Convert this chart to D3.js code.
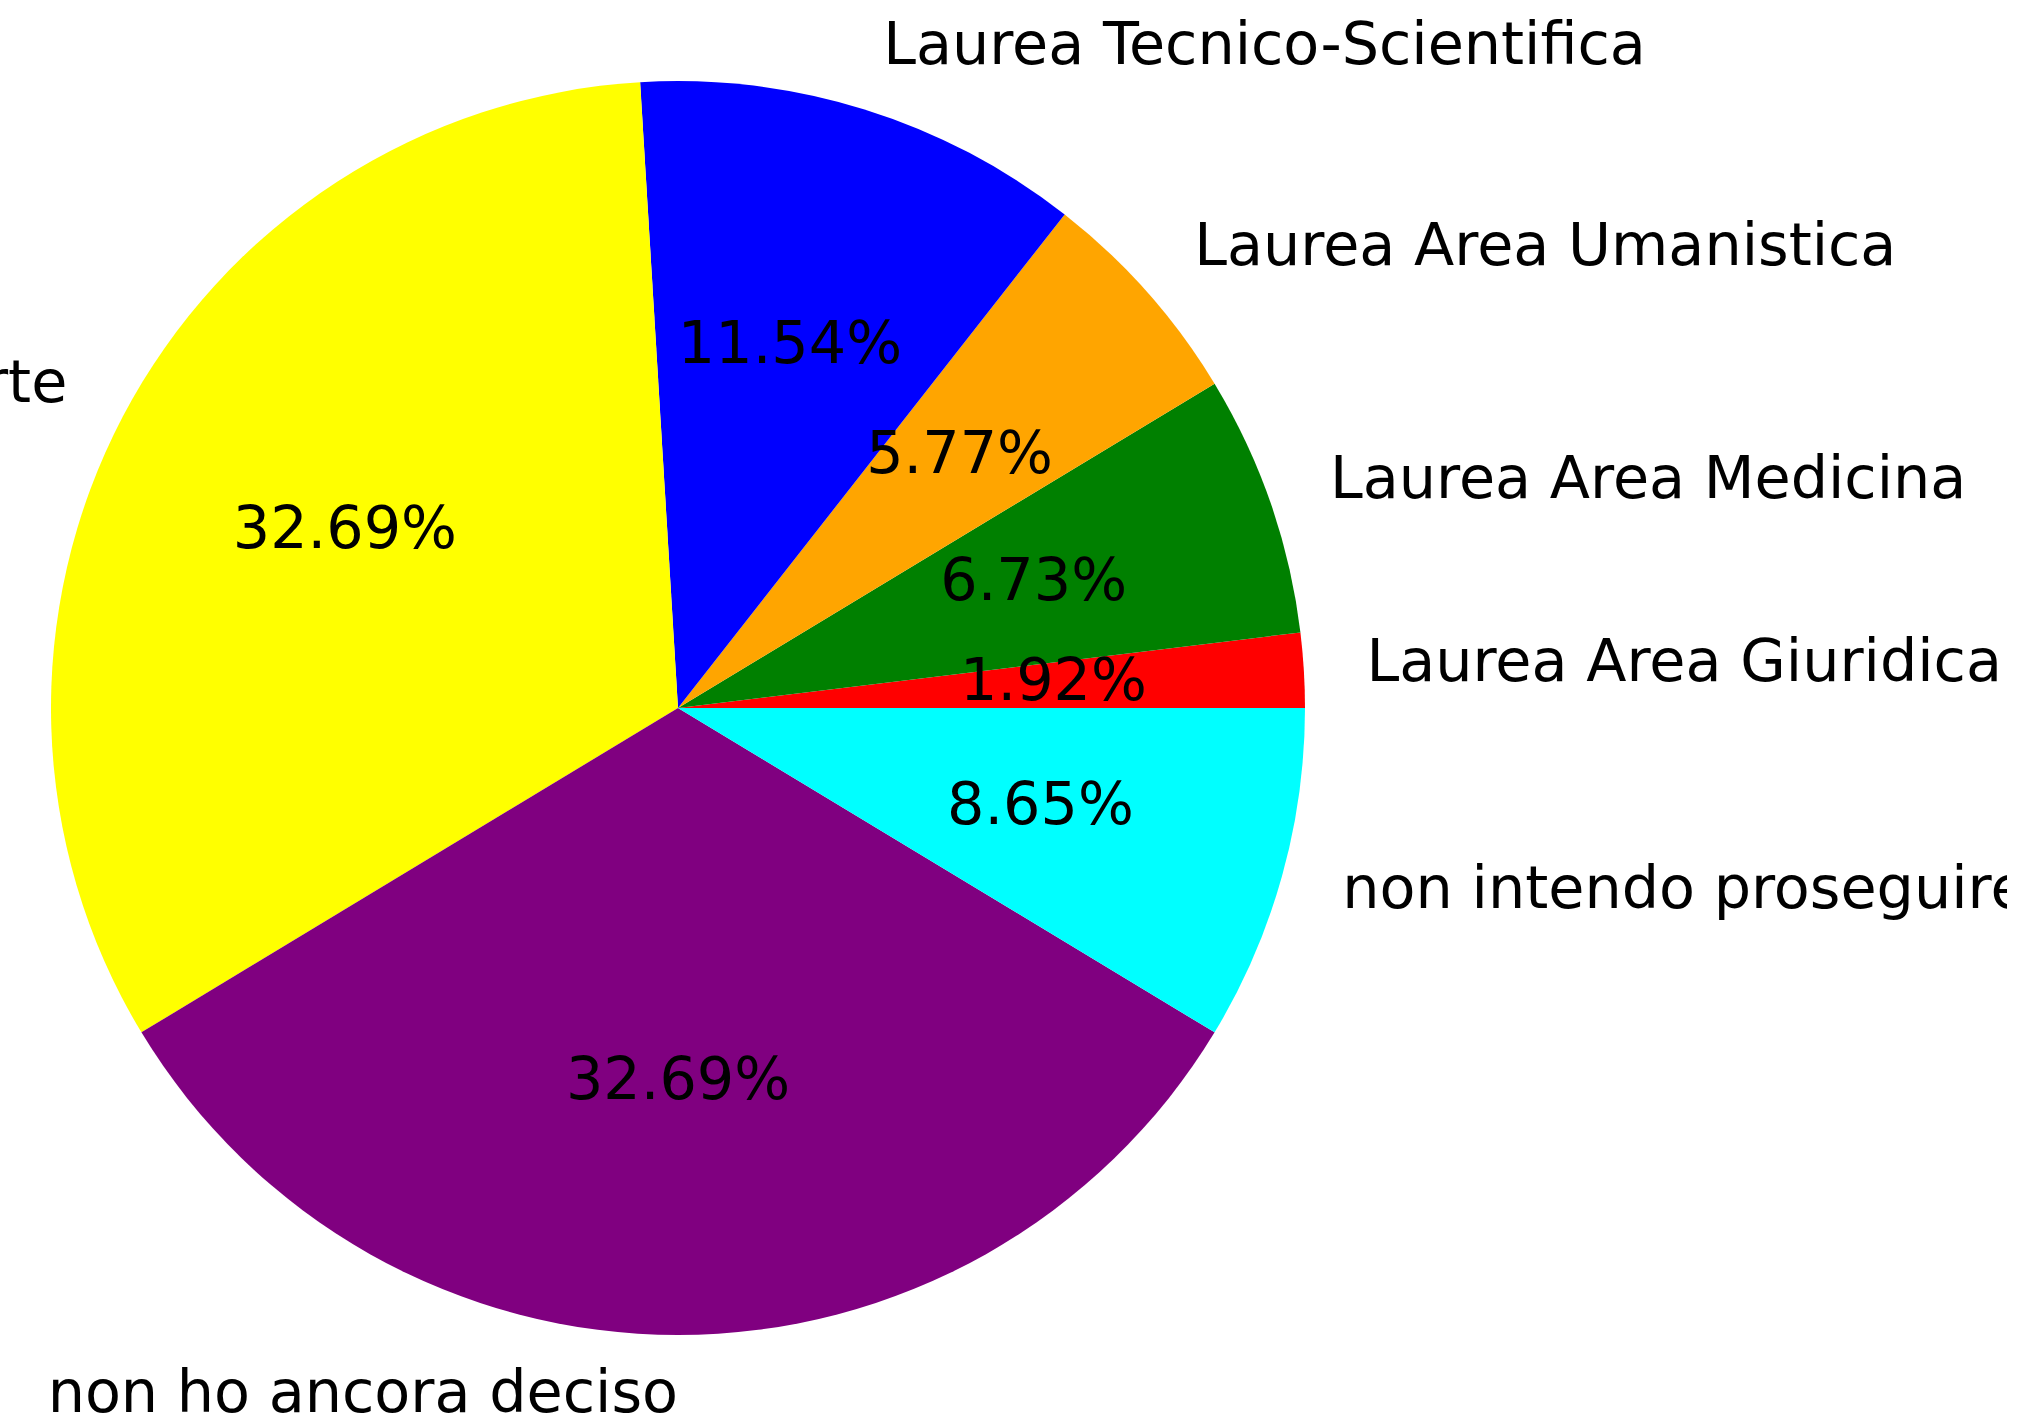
<!DOCTYPE html>
<meta charset="utf-8">
<style>
 body { margin: 0; background: #fff; }
 text {
   font-family: "DejaVu Sans", sans-serif;
   font-size: 58.8px;
   fill: #000;
 }
</style>
<svg width="2044" height="1426"></svg>
<script src="https://d3js.org/d3.v7.min.js"></script>
<script>

 // answers, counter-clockwise from 3 o'clock as in the source chart
 var labels = ["Laurea Area Giuridica", "Laurea Area Medicina", "Laurea Area Umanistica",
               "Laurea Tecnico-Scientifica", "Laurea Area Arte", "non ho ancora deciso",
               "non intendo proseguire"];
 var counts = [2, 7, 6, 12, 34, 34, 9];
 var colors = ["red", "green", "orange", "blue", "yellow", "purple", "cyan"];

 var svg = d3.select("svg"),
     cx = 678,
     cy = 708,
     radius = 627;

 var total = d3.sum(counts);
 var items = labels.map(function(l, i) { return {label: l, value: counts[i], color: colors[i]}; });

 // the original figure was cropped on the right, labels get cut there too
 svg.append("defs").append("clipPath")
    .attr("id", "crop")
    .append("rect")
    .attr("x", 0).attr("y", 0)
    .attr("width", 2007).attr("height", 1426);

 // d3 angles run clockwise from 12 o'clock, so go from +90deg backwards
 var pie = d3.pie()
             .sort(null)
             .value(function(d) { return d.value; })
             .startAngle(Math.PI / 2)
             .endAngle(Math.PI / 2 - 2 * Math.PI);

 var arc = d3.arc()
             .innerRadius(0)
             .outerRadius(radius);

 var g = svg.append("g")
            .attr("clip-path", "url(#crop)")
            .append("g")
            .attr("transform", "translate(" + cx + "," + cy + ")");

 var arcs = pie(items);

 g.selectAll("path")
  .data(arcs)
  .enter().append("path")
  .attr("d", arc)
  .attr("fill", function(d) { return d.data.color; });

 function mid(d) { return (d.startAngle + d.endAngle) / 2; }

 // percentages at 0.6 r
 g.selectAll("text.pct")
  .data(arcs)
  .enter().append("text")
  .attr("class", "pct")
  .attr("x", function(d) { return Math.sin(mid(d)) * radius * 0.6; })
  .attr("y", function(d) { return -Math.cos(mid(d)) * radius * 0.6; })
  .attr("dy", "-0.1em")
  .attr("text-anchor", "middle")
  .attr("dominant-baseline", "central")
  .text(function(d) { return (d.data.value / total * 100).toFixed(2) + "%"; });

 // category labels at 1.1 r
 g.selectAll("text.lbl")
  .data(arcs)
  .enter().append("text")
  .attr("class", "lbl")
  .attr("x", function(d) { return Math.sin(mid(d)) * radius * 1.1; })
  .attr("y", function(d) { return -Math.cos(mid(d)) * radius * 1.1; })
  .attr("dy", "-0.1em")
  .attr("text-anchor", function(d) { return Math.sin(mid(d)) > 1e-9 ? "start" : "end"; })
  .attr("dominant-baseline", "central")
  .text(function(d) { return d.data.label; });
</script>
